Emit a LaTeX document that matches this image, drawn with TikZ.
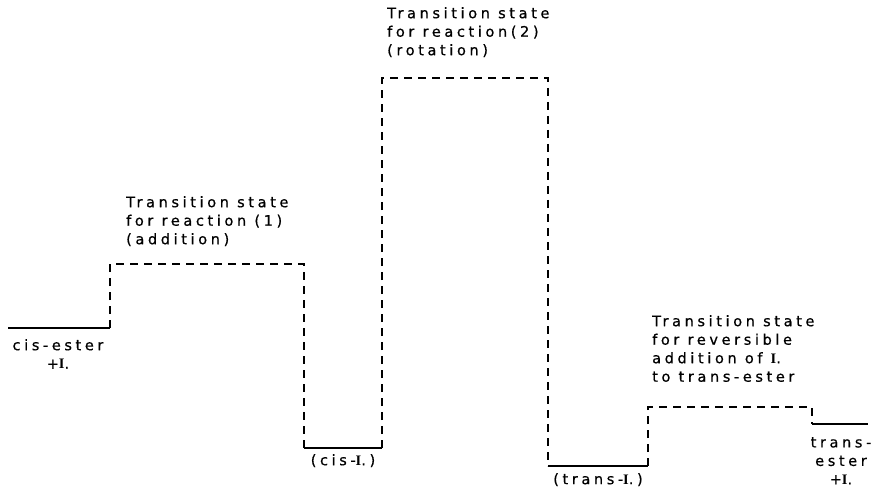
\documentclass[tikz,border=0pt]{standalone}
\usepackage{fontspec}
\setmainfont{DejaVu Sans}[LetterSpace=25, FakeBold=0.6]
\newfontfamily\radfont{Liberation Serif}
\newcommand{\Irad}{{\radfont\bfseries I}.}
\begin{document}
\begin{tikzpicture}[x=1pt,y=-1pt,
  level/.style={line width=1.5pt},
  barrier/.style={line width=1.5pt, dash pattern=on 8pt off 6pt},
  lbl/.style={inner sep=0pt, font=\fontsize{14.5}{18.5}\selectfont, align=left},
  clbl/.style={inner sep=0pt, font=\fontsize{14.5}{18.5}\selectfont, align=center}]
\useasboundingbox (0,0) rectangle (876,492);

% energy levels and barrier corners
\coordinate (a0) at (8,328);
\coordinate (a1) at (110,328);
\coordinate (a2) at (110,264);
\coordinate (a3) at (304,264);
\coordinate (a4) at (304,448);
\coordinate (a5) at (382,448);
\coordinate (a6) at (382,78);
\coordinate (a7) at (548,78);
\coordinate (a8) at (548,466);
\coordinate (a9) at (648,466);
\coordinate (a10) at (648,407);
\coordinate (a11) at (812,407);
\coordinate (a12) at (812,424);
\coordinate (a13) at (868,424);

% stable species (solid)
\draw[level] (a0) -- (a1);
\draw[level] (a4) -- (a5);
\draw[level] (a8) -- (a9);
\draw[level] (a12) -- (a13);

% transition states (dashed)
\draw[barrier] (a1) -- (a2) -- (a3) -- (a4);
\draw[barrier] (a5) -- (a6) -- (a7) -- (a8);
\draw[barrier] (a9) -- (a10) -- (a11) -- (a12);

% labels
\node[clbl, anchor=north] (cisester) at (58,339) {cis-ester\\+\Irad};
\node[clbl, anchor=north] (cisI) at (343,454) {(cis-\Irad)};
\node[clbl, anchor=north] (transI) at (598,473) {(trans-\Irad)};
\node[clbl, anchor=north] (transester) at (841,437) {trans-\\ester\\+\Irad};

\node[lbl, anchor=north west] (ts1) at (126,196) {Transition state\\for reaction (1)\\(addition)};
\node[lbl, anchor=north west] (ts2) at (387,7) {Transition state\\for reaction(2)\\(rotation)};
\node[lbl, anchor=north west] (ts3) at (652,315) {Transition state\\for reversible\\addition of \Irad\\to trans-ester};
\end{tikzpicture}
\end{document}
